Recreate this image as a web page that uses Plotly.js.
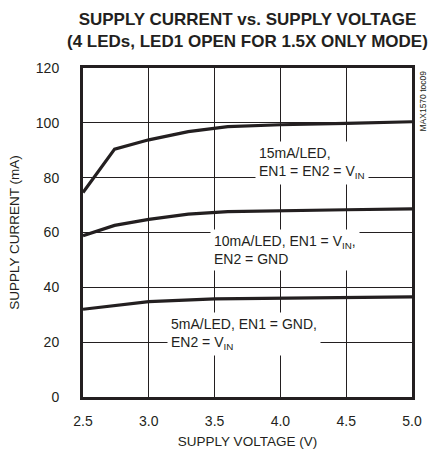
<!DOCTYPE html>
<html><head><meta charset="utf-8">
<script src="https://cdn.plot.ly/plotly-3.0.1.min.js"></script>
<style>html,body{margin:0;padding:0;background:#fff}#c{width:436px;height:456px}</style>
</head><body><div id="c"></div>
<script>
const x15 = [2.5, 2.74, 3.0, 3.3, 3.6, 4.0, 4.5, 5.0];
const y15 = [74.6, 90.4, 93.8, 96.8, 98.6, 99.3, 99.8, 100.4];
const x10 = [2.5, 2.74, 3.0, 3.3, 3.6, 4.0, 4.5, 5.0];
const y10 = [58.8, 62.6, 64.8, 66.7, 67.6, 68.0, 68.3, 68.6];
const x5 = [2.5, 3.0, 3.5, 4.0, 4.5, 5.0];
const y5 = [32.0, 34.8, 35.8, 36.1, 36.3, 36.5];
const xTicks = [2.5, 3.0, 3.5, 4.0, 4.5, 5.0];
const xTickText = ["2.5", "3.0", "3.5", "4.0", "4.5", "5.0"];
const yTicks = [0, 20, 40, 60, 80, 100, 120];
const titleText = "SUPPLY CURRENT vs. SUPPLY VOLTAGE<br>(4 LEDs, LED1 OPEN FOR 1.5X ONLY MODE)";
const labels = [
  {text: "15mA/LED,<br>EN1 = EN2 = V<sub>IN</sub>", x: 3.81, y: 85.2},
  {text: "10mA/LED, EN1 = V<sub>IN</sub>,<br>EN2 = GND", x: 3.465, y: 53.8},
  {text: "5mA/LED, EN1 = GND,<br>EN2 = V<sub>IN</sub>", x: 3.138, y: 23.0}
];
const F = "'Liberation Sans', Arial, sans-serif";
const C = '#231f20';
const line = {color: C, width: 3.2};
const traces = [
  {x: x15, y: y15, mode: 'lines', line: line},
  {x: x10, y: y10, mode: 'lines', line: line},
  {x: x5, y: y5, mode: 'lines', line: line}
];
const ann = labels.map(l => ({
  x: l.x, y: l.y, xref: 'x', yref: 'y', xanchor: 'left', yanchor: 'middle',
  text: l.text, showarrow: false, align: 'left', bgcolor: '#fff', borderpad: 3,
  font: {family: F, size: 14, color: C}
}));
ann.push({x: 1.0, y: 1.0, xref: 'paper', yref: 'paper', xanchor: 'left', yanchor: 'top', xshift: 3, yshift: -1,
  text: 'MAX1570 toc09', textangle: -90, showarrow: false,
  font: {family: F, size: 8.5, color: C}});
ann.push({x: 0.4985, y: 1.183, xref: 'paper', yref: 'paper', xanchor: 'center', yanchor: 'top',
  text: '<b>' + titleText + '</b>', showarrow: false, align: 'center',
  font: {family: F, size: 17, color: C}});
const layout = {
  width: 436, height: 456,
  margin: {l: 83, r: 24, t: 68, b: 59},
  paper_bgcolor: '#fff', plot_bgcolor: '#fff',
  showlegend: false,
  xaxis: {range: [2.5, 5.0], tickvals: xTicks, ticktext: xTickText, showgrid: true, gridcolor: C, gridwidth: 1,
    zeroline: false, showline: true, mirror: true, linecolor: C, linewidth: 3,
    ticks: 'outside', ticklen: 9, tickcolor: 'rgba(0,0,0,0)',
    tickfont: {family: F, size: 14, color: C},
    title: {text: 'SUPPLY VOLTAGE (V)', standoff: 9, font: {family: F, size: 13.5, color: C}}},
  yaxis: {range: [0, 120], tickvals: yTicks, showgrid: true, gridcolor: C, gridwidth: 1,
    zeroline: false, showline: true, mirror: true, linecolor: C, linewidth: 3,
    ticks: 'outside', ticklen: 18, tickcolor: 'rgba(0,0,0,0)',
    tickfont: {family: F, size: 14, color: C},
    title: {text: 'SUPPLY CURRENT (mA)', standoff: 14, font: {family: F, size: 13.5, color: C}}},
  annotations: ann
};
Plotly.newPlot('c', traces, layout, {displayModeBar: false, staticPlot: true});
</script></body></html>
